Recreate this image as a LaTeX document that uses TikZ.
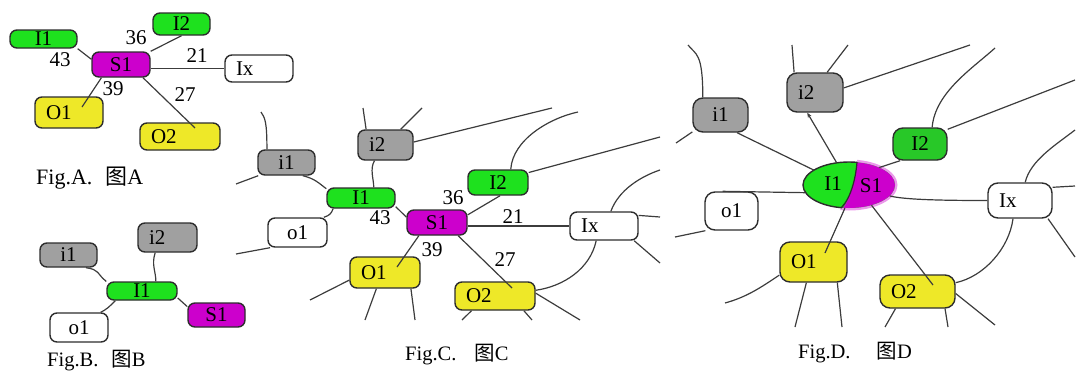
\documentclass[tikz,border=0pt]{standalone}
\usepackage{fontspec}
\setmainfont{Liberation Serif}
\newfontfamily\cjk{Noto Sans CJK SC}
\usetikzlibrary{shapes.geometric,arrows.meta}

\definecolor{edge}{RGB}{45,45,45}
\definecolor{wire}{RGB}{60,60,60}
\definecolor{nodegreen}{RGB}{30,225,30}
\definecolor{darkgreen}{RGB}{40,200,40}
\definecolor{nodemag}{RGB}{204,0,204}
\definecolor{nodeyellow}{RGB}{238,232,40}
\definecolor{nodegray}{RGB}{160,160,160}

\begin{document}
\begin{tikzpicture}[x=1pt,y=-1pt,
  every node/.style={font=\fontsize{21}{21}\selectfont, inner sep=0pt},
  box/.style={draw=edge, line width=1.4pt, rounded corners=7pt},
  gbox/.style={box, fill=nodegreen},
  gbox2/.style={box, fill=darkgreen},
  mbox/.style={box, fill=nodemag},
  ybox/.style={box, fill=nodeyellow},
  graybox/.style={box, fill=nodegray},
  wbox/.style={box, fill=white},
  big/.style={rounded corners=10pt},
  sz/.style 2 args={minimum width=#1pt, minimum height=#2pt},
  lt/.style={inner xsep=11pt, align=left, text width=#1},
  link/.style={draw=wire, line width=1.2pt},
  num/.style={font=\fontsize{21}{21}\selectfont},
  captext/.style={font=\fontsize{20.5}{21}\selectfont, anchor=west}
]
\useasboundingbox (0,0) rectangle (1076,370);

% ---------------- Fig.A ----------------
\node[gbox, sz={67}{18}] (aI1) at (43.5,39) {I1};
\node[gbox, sz={57}{22}] (aI2) at (181.5,24) {I2};
\node[mbox, sz={58}{25}] (aS1) at (121,64.5) {S1};
\node[wbox, sz={68}{27}, lt=46pt] (aIx) at (259,68.5) {Ix};
\node[ybox, sz={68}{31}, lt=46pt] (aO1) at (69,112.5) {O1};
\node[ybox, sz={80}{27}, lt=58pt] (aO2) at (180,136.5) {O2};
\coordinate (aO1in) at (82,107);
\coordinate (aO2in) at (195,128);

\draw[link] (aI1.south east) -- (aS1.170);
\draw[link] (aS1.north east) -- (aI2.south);
\draw[link] (aS1.east |- aIx.west) -- (aIx.west);
\draw[link] (aS1.214) -- (aO1in);
\draw[link] (aS1.-31) -- (aO2in);

\node[num] (aw43) at (60,60) {43};
\node[num] (aw36) at (136,38) {36};
\node[num] (aw21) at (197,56) {21};
\node[num] (aw39) at (113,89) {39};
\node[num] (aw27) at (185,95) {27};

\node[captext, font=\fontsize{22}{22}\selectfont] (capA) at (36,178) {Fig.A.\hspace{13pt}{\cjk 图}A};

% ---------------- Fig.B ----------------
\node[graybox, sz={57}{24}] (bi1) at (68.5,255) {i1};
\node[graybox, sz={59}{29}, lt=37pt] (bi2) at (167.5,237.5) {i2};
\node[gbox, sz={70}{18}] (bI1) at (142,291) {I1};
\node[mbox, sz={57}{24}] (bS1) at (216.5,315) {S1};
\node[wbox, sz={58}{29}] (bo1) at (79,327.5) {o1};

\draw[link] (bi1.-36) .. controls +(14,2) and +(-10,-8) .. (bI1.165);
\draw[link] (bi2.-129) .. controls +(-4,12) and +(0,-10) .. (bI1.35);
\draw[link] (bI1.-11) -- (bS1.164);
\draw[link] (bI1.-160) .. controls +(-6,6) and +(6,-3) .. (bo1.35);

\node[captext] (capB) at (47,361) {Fig.B.\hspace{13pt}{\cjk 图}B};

% ---------------- Fig.C ----------------
\node[graybox, sz={57}{25}] (ci1) at (286.5,162.5) {i1};
\node[graybox, sz={55}{30}, lt=33pt] (ci2) at (385.5,145) {i2};
\node[gbox, sz={68}{20}] (cI1) at (361,198) {I1};
\node[wbox, sz={59}{29}] (co1) at (297.5,232.5) {o1};
\node[mbox, sz={60}{25}] (cS1) at (437,222.5) {S1};
\node[gbox, sz={60}{25}] (cI2) at (498,182.5) {I2};
\node[wbox, sz={68}{28}, lt=46pt] (cIx) at (604,226) {Ix};
\node[ybox, sz={70}{31}, lt=48pt] (cO1) at (385,272.5) {O1};
\node[ybox, sz={80}{28}, lt=58pt] (cO2) at (495,296) {O2};

\coordinate (q1) at (261,112);
\coordinate (q2) at (236,184);
\coordinate (q3) at (363,108);
\coordinate (q4) at (422,108);
\coordinate (q5) at (552,108);
\coordinate (q6) at (236,254);
\coordinate (q7) at (397,267);
\coordinate (q8) at (512,288);
\coordinate (q9) at (578,112);
\coordinate (q10) at (660,137);
\coordinate (q11) at (660,170);
\coordinate (q12) at (660,217);
\coordinate (q13) at (660,263);
\coordinate (q14) at (310,300);
\coordinate (q15) at (365,320);
\coordinate (q16) at (415,320);
\coordinate (q17) at (462,320);
\coordinate (q18) at (532,320);
\coordinate (q19) at (580,320);

\draw[link] (ci1.146) .. controls +(0,-28) and +(4,6) .. (q1);
\draw[link] (ci1.-155) -- (q2);
\draw[link] (ci1.-39) .. controls +(12,3) and +(-8,-6) .. (cI1.165);
\draw[link] (ci2.141) -- (q3);
\draw[link] (ci2.46) -- (q4);
\draw[link] (ci2.6) -- (q5);
\draw[link] (ci2.-125) .. controls +(-5,8) and +(0,-8) .. (cI1.40);
\draw[link] (cI1.-159) .. controls +(-2,5) and +(6,-2) .. (co1.30);
\draw[link] (co1.-151) -- (q6);
\draw[link] (cI1.-14) -- (cS1.170);
\draw[link] (cS1.14) -- (cI2.-81);
\draw[link] (cS1.east |- cIx.west) -- (cIx.west);
\draw[link] (cS1.-144) -- (q7);
\draw[link] (cS1.-32) -- (q8);
\draw[link] (cI2.46) .. controls +(2,-30) and +(-28,6) .. (q9);
\draw[link] (cI2.18) -- (q10);
\draw[link] (cIx.65) .. controls +(8,-22) and +(-18,6) .. (q11);
\draw[link] (cIx.17) -- (q12);
\draw[link] (cIx.-26) -- (q13);
\draw[link] (cIx.-118) .. controls +(-6,28) and +(28,-4) .. (cO2.8);
\draw[link] (cO1.-168) -- (q14);
\draw[link] (cO1.-118) -- (q15);
\draw[link] (cO1.-32) -- (q16);
\draw[link] (cO2.-148) -- (q17);
\draw[link] (cO2.-27) -- (q18);
\draw[link] (cO2.4) -- (q19);

\node[num] (cw36) at (453,198) {36};
\node[num] (cw43) at (380,218) {43};
\node[num] (cw21) at (513,217) {21};
\node[num] (cw39) at (432,250) {39};
\node[num] (cw27) at (505,260) {27};

\node[captext] (capC) at (405,355) {Fig.C.\hspace{18pt}{\cjk 图}C};

% ---------------- Fig.D ----------------
\node[graybox, big, sz={55}{34}] (di1) at (720.5,115) {i1};
\node[graybox, big, sz={56}{39}, lt=34pt] (di2) at (815,92.5) {i2};
\node[gbox2, big, sz={54}{32}] (dI2) at (920,144) {I2};
\node[wbox, big, sz={53}{38}] (do1) at (731.5,211) {o1};
\node[wbox, big, sz={64}{35}, lt=42pt] (dIx) at (1020,200.5) {Ix};
\node[ybox, big, sz={67}{40}, lt=45pt] (dO1) at (813.5,262) {O1};
\node[ybox, big, sz={75}{33}, lt=53pt] (dO2) at (917.5,291.5) {O2};

% merged I1/S1 ellipse: green part on the left, magenta part on the right
\node[ellipse, sz={92}{46}] (dIS) at (849,185) {};
\begin{scope}
  \clip (857,150) -- (857,162) .. controls (856,175) and (852,198) .. (840,210)
        -- (838,222) -- (910,222) -- (910,150) -- cycle;
  \fill[nodemag!40] (849,185) ellipse [x radius=48.5, y radius=25.5];
\end{scope}
\begin{scope}
  \clip (849,185) ellipse [x radius=46, y radius=23];
  \fill[nodegreen] (800,158) rectangle (900,212);
  \fill[nodemag] (857,158) .. controls (856,175) and (852,198) .. (840,212)
        -- (900,212) -- (900,158) -- cycle;
\end{scope}
\begin{scope}
  \clip (790,150) -- (857,150) -- (857,162) .. controls (856,175) and (852,198) .. (840,210)
        -- (840,220) -- (790,220) -- cycle;
  \draw[edge, line width=1.4pt] (849,185) ellipse [x radius=46, y radius=23];
\end{scope}
\draw[edge, line width=1.2pt] (857,162) .. controls (856,175) and (852,197) .. (841,208);
\node (dI1t) at (833,184) {I1};
\node (dS1t) at (871,186) {S1};

\coordinate (r1) at (688,45);
\coordinate (r2) at (676,143);
\coordinate (r3) at (792,45);
\coordinate (r4) at (848,45);
\coordinate (r5) at (970,45);
\coordinate (r6) at (995,48);
\coordinate (r7) at (1075,80);
\coordinate (r8) at (675,237);
\coordinate (r9) at (1075,130);
\coordinate (r10) at (1075,186);
\coordinate (r11) at (1075,257);
\coordinate (r12) at (825,253);
\coordinate (r13) at (933,285);
\coordinate (r14) at (725,303);
\coordinate (r15) at (795,327);
\coordinate (r16) at (842,327);
\coordinate (r17) at (885,327);
\coordinate (r18) at (948,327);
\coordinate (r19) at (995,325);

\draw[link] (di1.135) .. controls +(0,-45) and +(8,10) .. (r1);
\draw[link] (di1.-149) -- (r2);
\draw[link] (di1.-47) -- (dIS.157);
\draw[link] (di2.136) -- (r3);
\draw[link] (di2.59) -- (r4);
\draw[link] (di2.9) -- (r5);
\draw[link, -{Stealth[length=5pt,width=4pt]}] (dIS.119) -- (di2.-111);
\draw[link] (dIS.30) -- (dI2.-140);
\draw[link] (dI2.54) .. controls +(3,-35) and +(-22,20) .. (r6);
\draw[link] (dI2.28) -- (r7);
\draw[link] (dIS.-170) -- (do1.114);
\draw[link] (do1.-143) -- (r8);
\draw[link] (dIS.-15) .. controls +(15,4) and +(-40,0) .. (dIx.west);
\draw[link] (dIx.74) .. controls +(5,-22) and +(-18,14) .. (r9);
\draw[link] (dIx.22) -- (r10);
\draw[link] (dIx.-33) -- (r11);
\draw[link] (dIx.-111) .. controls +(-4,30) and +(28,-6) .. (dO2.13);
\draw[link] (dIS.-100) -- (r12);
\draw[link] (dIS.-42) -- (r13);
\draw[link] (dO1.-159) .. controls +(-18,12) and +(22,-6) .. (r14);
\draw[link] (dO1.-109) -- (r15);
\draw[link] (dO1.-41) -- (r16);
\draw[link] (dO2.-142) -- (r17);
\draw[link] (dO2.-32) -- (r18);
\draw[link] (dO2.-3) -- (r19);

\node[captext] (capD) at (798,353) {Fig.D.\hspace{26pt}{\cjk 图}D};
\end{tikzpicture}
\end{document}
